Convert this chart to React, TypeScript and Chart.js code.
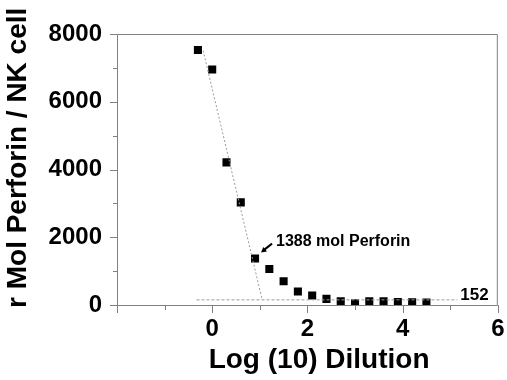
import React, { useEffect, useRef } from "react";
import { Chart, registerables } from "chart.js";

Chart.register(...registerables);

// Data
const logDilution = [-0.3, 0, 0.3, 0.6, 0.9, 1.2, 1.5, 1.8, 2.1, 2.4, 2.7, 3.0, 3.3, 3.6, 3.9, 4.2, 4.5];
const perforin = [7530, 6950, 4210, 3030, 1370, 1060, 700, 400, 280, 180, 110, 50, 110, 110, 90, 80, 70];

// Linear fit of the steep part and the plateau line
const fitX = [-0.19, 1.05];
const fitY = [7510, 152];
const plateauX = [-0.33, 5.15];
const plateauY = [152, 152];

const xTickLabels = ["0", "2", "4", "6"];
const yTickLabels = ["0", "2000", "4000", "6000", "8000"];

const annotationText = "1388 mol Perforin";
const annotationIndex = 4;
const plateauText = "152";

const FONT = "'Liberation Sans', Arial, sans-serif";
const AXIS_GRAY = "#808080";

const framePlugin = {
  id: "frame",
  afterDatasetsDraw(chart: any) {
    const { ctx, chartArea, scales } = chart;
    const { left, right, top, bottom } = chartArea;
    ctx.save();
    ctx.strokeStyle = AXIS_GRAY;
    ctx.lineWidth = 1;
    ctx.beginPath();
    ctx.rect(left + 0.5, top + 0.5, right - left - 1, bottom - top);
    ctx.stroke();
    // tick marks: long at labelled values, short between
    ctx.beginPath();
    scales.y.ticks.forEach((t: any) => {
      const py = Math.round(scales.y.getPixelForValue(t.value)) + 0.5;
      const len = t.value % 2000 === 0 ? 7 : 4;
      ctx.moveTo(left, py);
      ctx.lineTo(left - len, py);
    });
    scales.x.ticks.forEach((t: any) => {
      const px = Math.round(scales.x.getPixelForValue(t.value)) + 0.5;
      const len = t.value % 2 === 0 ? 8 : 5;
      ctx.moveTo(px, bottom);
      ctx.lineTo(px, bottom + len);
    });
    ctx.stroke();

    // annotation with arrow, anchored to the labelled data point
    const ax = scales.x.getPixelForValue(logDilution[annotationIndex]);
    const ay = scales.y.getPixelForValue(perforin[annotationIndex]);
    ctx.strokeStyle = "#000";
    ctx.fillStyle = "#000";
    ctx.lineWidth = 2;
    const tipX = ax + 6, tipY = ay - 6;
    const tailX = ax + 17, tailY = ay - 15;
    ctx.beginPath();
    ctx.moveTo(tailX, tailY);
    ctx.lineTo(tipX + 2, tipY - 2);
    ctx.stroke();
    const ang = Math.atan2(tipY - tailY, tipX - tailX);
    ctx.beginPath();
    ctx.moveTo(tipX, tipY);
    ctx.lineTo(tipX - 6 * Math.cos(ang - 0.5), tipY - 6 * Math.sin(ang - 0.5));
    ctx.lineTo(tipX - 6 * Math.cos(ang + 0.5), tipY - 6 * Math.sin(ang + 0.5));
    ctx.closePath();
    ctx.fill();

    ctx.font = `bold 16px ${FONT}`;
    ctx.textAlign = "left";
    ctx.textBaseline = "alphabetic";
    ctx.fillText(annotationText, ax + 21, ay - 13);

    const px = scales.x.getPixelForValue(plateauX[1]);
    const py = scales.y.getPixelForValue(plateauY[1]);
    ctx.font = `bold 17px ${FONT}`;
    ctx.fillText(plateauText, px + 3, py);
    ctx.restore();
  },
};

export default function App() {
  const ref = useRef<HTMLCanvasElement | null>(null);
  useEffect(() => {
    if (!ref.current) return;
    const chart = new Chart(ref.current, {
      type: "scatter",
      data: {
        datasets: [
          {
            label: "fit",
            data: fitX.map((x, i) => ({ x, y: fitY[i] })),
            showLine: true,
            borderColor: "#9a9a9a",
            borderWidth: 1,
            borderDash: [2, 2],
            pointRadius: 0,
          },
          {
            label: "plateau",
            data: plateauX.map((x, i) => ({ x, y: plateauY[i] })),
            showLine: true,
            borderColor: "#9a9a9a",
            borderWidth: 1,
            borderDash: [3, 2],
            pointRadius: 0,
          },
          {
            label: "perforin",
            data: logDilution.map((x, i) => ({ x, y: perforin[i] })),
            pointStyle: "rect",
            pointRadius: 5.7,
            backgroundColor: "#000",
            borderColor: "#000",
            borderWidth: 0,
          },
        ],
      },
      options: {
        animation: false,
        responsive: false,
        devicePixelRatio: 1,
        layout: { padding: { top: 34, right: 7, left: 0, bottom: 0 } },
        plugins: { legend: { display: false }, tooltip: { enabled: false } },
        scales: {
          x: {
            type: "linear",
            min: -2,
            max: 6,
            afterFit: (s: any) => { s.height = 75; },
            border: { display: false },
            grid: { display: true, drawOnChartArea: false, drawTicks: true, tickLength: 7, color: "rgba(0,0,0,0)" },
            ticks: {
              stepSize: 1,
              padding: 2.5,
              color: "#000",
              font: { family: FONT, size: 24, weight: "bold" },
              callback: (v: any) => {
                const s = String(v);
                return xTickLabels.includes(s) ? s : "";
              },
            },
            title: {
              display: true,
              text: "   Log (10) Dilution",
              color: "#000",
              font: { family: FONT, size: 28, weight: "bold" },
              padding: { top: 0, bottom: 3 },
            },
          },
          y: {
            type: "linear",
            min: 0,
            max: 8000,
            afterFit: (s: any) => { s.width = 117; },
            border: { display: false },
            grid: { display: true, drawOnChartArea: false, drawTicks: true, tickLength: 7, color: "rgba(0,0,0,0)" },
            ticks: {
              stepSize: 1000,
              padding: 8,
              color: "#000",
              font: { family: FONT, size: 24, weight: "bold" },
              callback: (v: any) => {
                const s = String(v);
                return yTickLabels.includes(s) ? s : "";
              },
            },
            title: {
              display: true,
              text: "   r Mol Perforin / NK cell",
              color: "#000",
              font: { family: FONT, size: 28, weight: "bold" },
              padding: { top: 1.5, bottom: 0 },
            },
          },
        },
      },
      plugins: [framePlugin],
    } as any);
    return () => chart.destroy();
  }, []);
  return (
    <div style={{ position: "absolute", left: 0, top: 0, width: 507, height: 380, background: "#fff" }}>
      <canvas ref={ref} width={507} height={380} />
    </div>
  );
}
